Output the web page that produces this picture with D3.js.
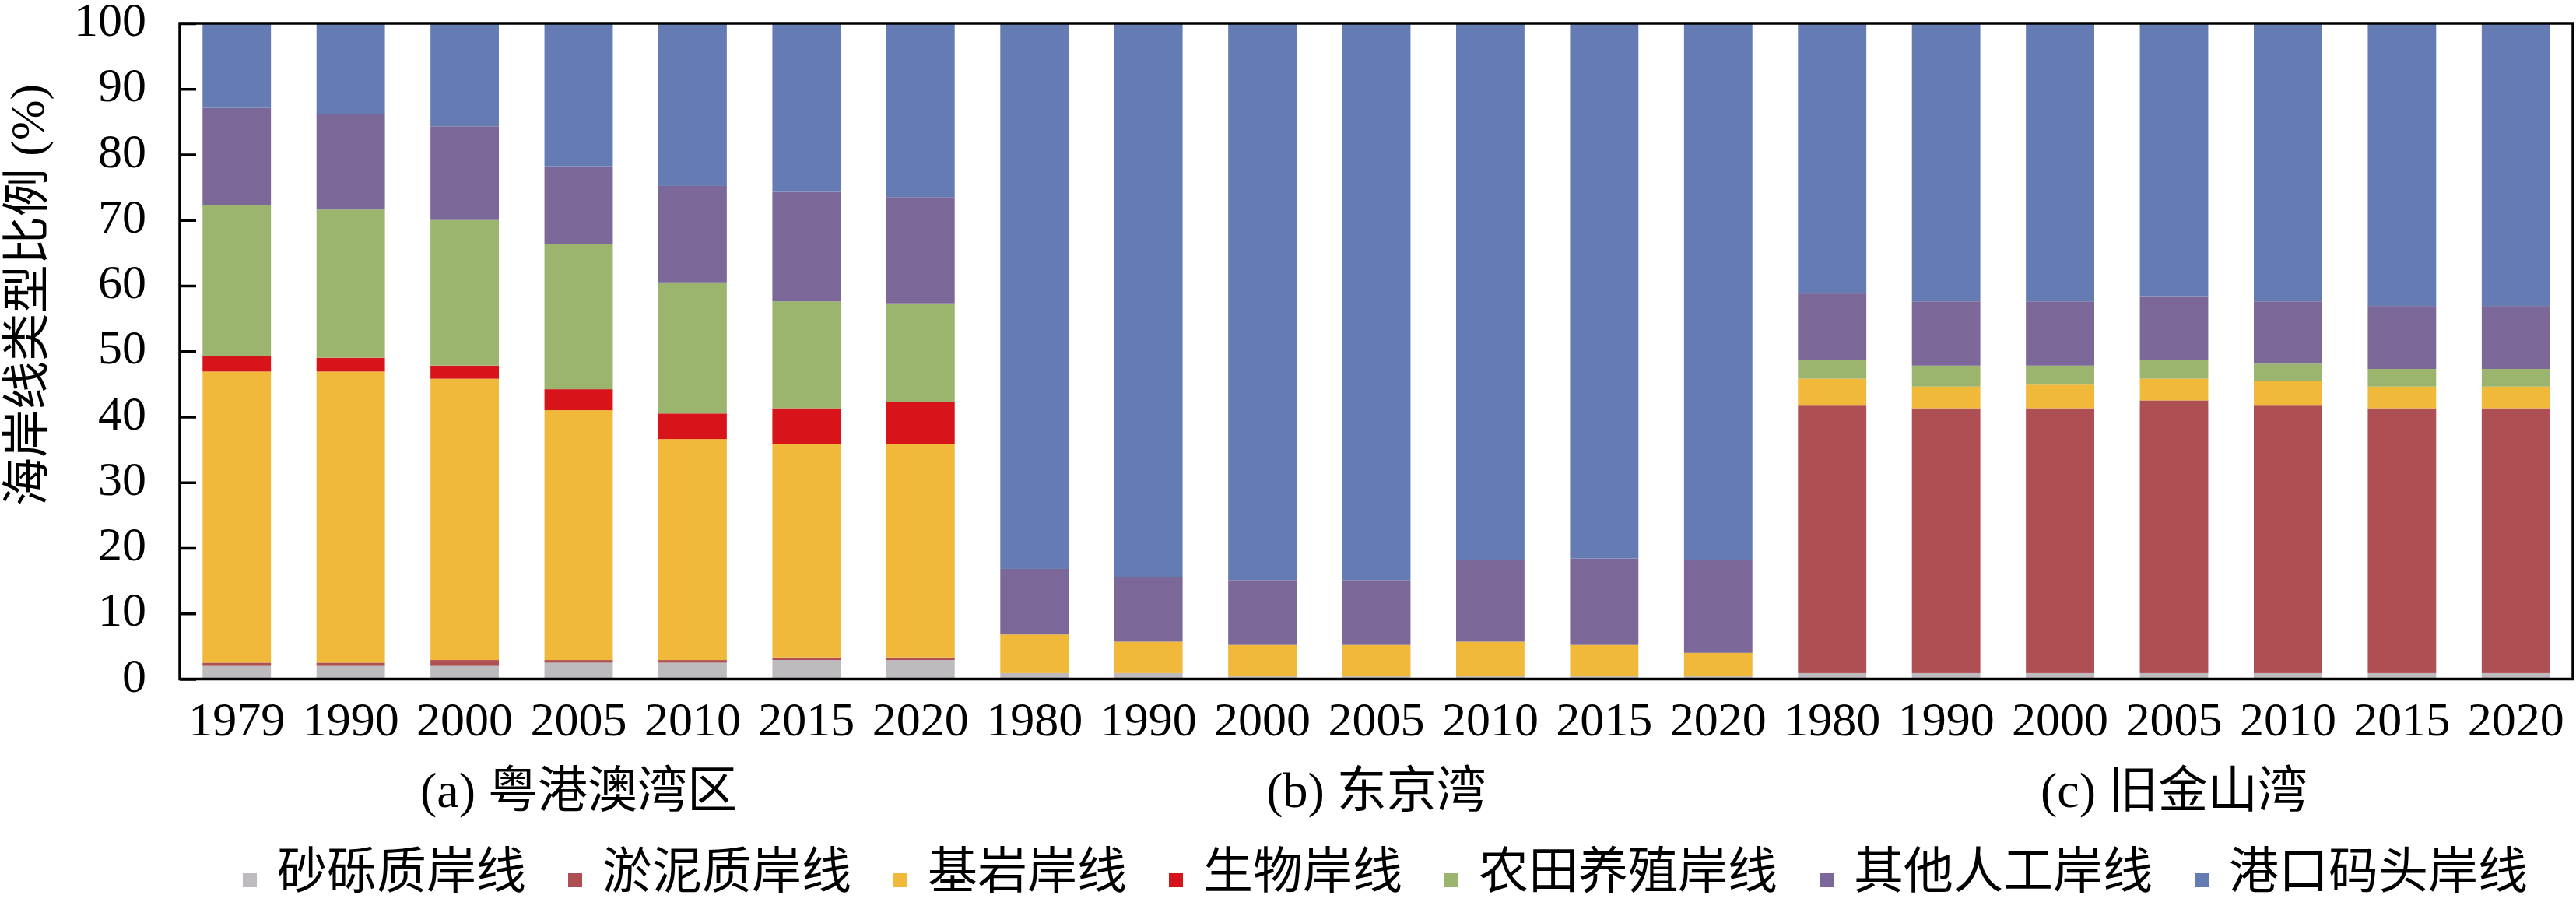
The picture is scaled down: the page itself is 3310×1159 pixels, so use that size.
<!DOCTYPE html>
<html><head><meta charset="utf-8">
<script src="https://cdn.jsdelivr.net/npm/d3@7"></script>
<style>
html,body{margin:0;padding:0;background:#fff;}
svg text{font-family:"Liberation Serif","Times New Roman","Noto Sans CJK SC",serif;fill:#000;}
</style></head>
<body><svg id="chart" width="3310" height="1159"></svg>
<script>
// ---- data ----
const years = ["1979","1990","2000","2005","2010","2015","2020",
               "1980","1990","2000","2005","2010","2015","2020",
               "1980","1990","2000","2005","2010","2015","2020"];
const groups = ["(a) 粤港澳湾区","(b) 东京湾","(c) 旧金山湾"];
const seriesNames = ["砂砾质岸线","淤泥质岸线","基岩岸线","生物岸线","农田养殖岸线","其他人工岸线","港口码头岸线"];
const seriesColors = ["#BDBBBE","#AD4F53","#F0B93A","#D7141A","#9CB56E","#7B6899","#647BB4"];
const gravel  = [2.0,2.0,2.0,2.5,2.5,2.9,2.9, 0.9,0.9,0.4,0.4,0.4,0.4,0.4, 0.9,0.9,0.9,0.9,0.9,0.9,0.9];
const mud     = [0.5,0.5,0.9,0.4,0.4,0.4,0.4, 0,0,0,0,0,0,0, 40.8,40.4,40.4,41.6,40.8,40.4,40.4];
const bedrock = [44.4,44.4,42.9,38.1,33.7,32.5,32.5, 5.9,4.8,4.8,4.8,5.3,4.8,3.6, 4.1,3.3,3.6,3.3,3.7,3.3,3.3];
const bio     = [2.4,2.1,2.0,3.2,3.9,5.5,6.4, 0,0,0,0,0,0,0, 0,0,0,0,0,0,0];
const farm    = [23.0,22.6,22.2,22.2,20.0,16.3,15.1, 0,0,0,0,0,0,0, 2.8,3.2,2.9,2.8,2.7,2.7,2.7];
const other   = [14.8,14.6,14.3,11.8,14.7,16.7,16.2, 10.0,9.8,9.9,9.9,12.4,13.2,14.1, 10.2,9.8,9.8,9.8,9.5,9.6,9.6];
const port    = [12.9,13.8,15.7,21.8,24.8,25.7,26.5, 83.2,84.5,84.9,84.9,81.9,81.6,81.9, 41.2,42.4,42.4,41.6,42.4,43.1,43.1];
const yTicks = [0,10,20,30,40,50,60,70,80,90,100];
const yTitle = "海岸线类型比例 (%)";

// ---- layout ----
const L = 231, R = 3306, T = 30, B = 872.5;
const svg = d3.select("#chart");
const idx = years.map((d,i)=>i);
const x = d3.scaleBand().domain(idx).range([L,R]).paddingInner(0.4).paddingOuter(0.2);
const y = d3.scaleLinear().domain([0,100]).range([B,T]);

const seriesData = [gravel,mud,bedrock,bio,farm,other,port];
const table = idx.map(i=>{const o={i}; seriesNames.forEach((n,k)=>o[n]=seriesData[k][i]); return o;});
const stacked = d3.stack().keys(seriesNames)(table);

svg.append("g").selectAll("g").data(stacked).join("g")
  .attr("fill",(d,k)=>seriesColors[k])
  .selectAll("rect").data(d=>d).join("rect")
  .attr("x",d=>x(d.data.i)).attr("width",x.bandwidth())
  .attr("y",d=>y(d[1])).attr("height",d=>Math.max(0,y(d[0])-y(d[1])));

// frame
svg.append("rect").attr("x",L).attr("y",T).attr("width",R-L).attr("height",B-T)
  .attr("fill","none").attr("stroke","#000").attr("stroke-width",3.5);

// y axis ticks (inside) and labels
const yAxis = svg.append("g").attr("transform",`translate(${L},0)`)
  .call(d3.axisRight(y).tickValues(yTicks).tickSize(21).tickFormat(""));
yAxis.select(".domain").remove();
yAxis.selectAll("line").attr("stroke","#000").attr("stroke-width",3.5);
svg.append("g").selectAll("text").data(yTicks).join("text")
  .attr("x",L-43).attr("y",d=>y(d)+16).attr("text-anchor","end")
  .attr("font-size",62).text(d=>d);

// x labels
const xAxis = svg.append("g").attr("transform",`translate(0,${B})`)
  .call(d3.axisBottom(x).tickSize(0).tickFormat(i=>years[i]));
xAxis.select(".domain").remove();
xAxis.selectAll("text").attr("font-size",62).attr("dy",null).attr("y",72)
  .style("font-family",'"Liberation Serif","Times New Roman",serif');

// group labels
groups.forEach((g,k)=>{
  const c = x(k*7+3)+x.bandwidth()/2;
  svg.append("text").attr("x",c).attr("y",1037).attr("text-anchor","middle")
    .attr("font-size",64).text(g);
});

// y title
svg.append("text").attr("transform","translate(56,379) rotate(-90)")
  .attr("text-anchor","middle").attr("font-size",62).text(yTitle);

// legend
const lg = svg.append("g");
let cx = 312;
seriesNames.forEach((n,k)=>{
  lg.append("rect").attr("x",cx).attr("y",1122).attr("width",18).attr("height",18).attr("fill",seriesColors[k]);
  const t = lg.append("text").attr("x",cx+44).attr("y",1141).attr("font-size",64).text(n);
  const w = t.node().getComputedTextLength();
  cx = cx+44+w+54;
});
</script></body></html>
